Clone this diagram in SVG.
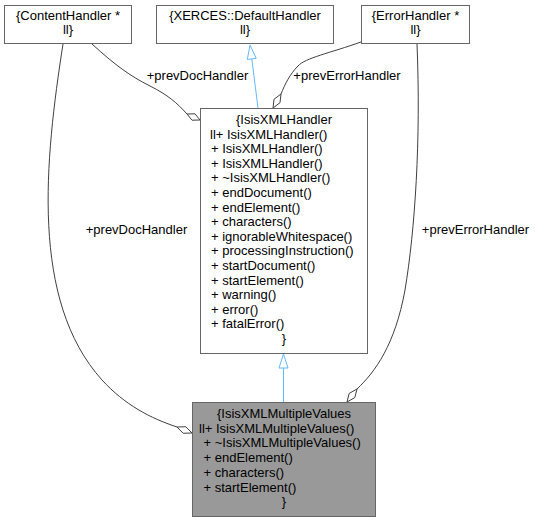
<svg xmlns="http://www.w3.org/2000/svg" width="535" height="521" viewBox="0 0 535 521">
<style>
.node rect{fill:#ffffff;stroke:#666666;stroke-width:1}
.hl rect{fill:#999999}
text{font-family:"Liberation Sans",Arial,Helvetica,sans-serif;font-size:13px;fill:#000000}
.c{text-anchor:middle}
.e path{fill:none;stroke:#404040;stroke-width:1}
.e polygon{fill:#ffffff;stroke:#404040;stroke-width:1}
.i path{fill:none;stroke:#63b8ff;stroke-width:1}
.i polygon{fill:#ffffff;stroke:#63b8ff;stroke-width:1}
</style>
<rect width="535" height="521" fill="#ffffff"/>
<g id="edges">
<g class="i">
<path d="M258,108 L251.8,58.9"/>
<polygon points="250,45 256.2,58.3 247.3,59.5"/>
<path d="M283.5,402 L283.5,368"/>
<polygon points="283.5,354 288,368 279,368"/>
</g>
<g class="e">
<path d="M92,44 C115,65 130,76 150,86 C168,95 177,103 187,114"/>
<polygon points="200,120 195,113.8 187,114 192,120.2"/>
<text class="c" x="197.5" y="80">+prevDocHandler</text>
<path d="M63,44 C45,160 30,300 102,380 C125,405 150,418 177,427"/>
<polygon points="192,433 185.8,426.75 177,427 183.2,433.25"/>
<text class="c" x="136.5" y="234">+prevDocHandler</text>
<path d="M361,42 C330,53 305,58 298,66 C290,74 285,84 281,94"/>
<polygon points="273,108 274,99.3 281,94 280,102.7"/>
<text class="c" x="347" y="80">+prevErrorHandler</text>
<path d="M417,44 C421,140 415,230 405,290 C395,345 375,372 357,389"/>
<polygon points="347,402 349.2,393.4 357,389 354.8,397.6"/>
<text class="c" x="475.5" y="234">+prevErrorHandler</text>
</g>
</g>
<g id="ContentHandler" class="node">
<rect x="4.5" y="5.5" width="127" height="38"/>
<text class="c" x="68" y="19.5">{ContentHandler *</text>
<text class="c" x="68" y="34">ll}</text>
</g>
<g id="DefaultHandler" class="node">
<rect x="156.5" y="5.5" width="177" height="38"/>
<text class="c" x="245" y="19.5">{XERCES::DefaultHandler</text>
<text class="c" x="245" y="34">ll}</text>
</g>
<g id="ErrorHandler" class="node">
<rect x="361.5" y="5.5" width="108" height="38"/>
<text class="c" x="415.5" y="19.5">{ErrorHandler *</text>
<text class="c" x="415.5" y="34">ll}</text>
</g>
<g id="IsisXMLHandler" class="node">
<rect x="200.5" y="108.5" width="167" height="245"/>
<text class="c" x="284" y="124">{IsisXMLHandler</text>
<text x="210" y="138.6">ll+ IsisXMLHandler()</text>
<text x="211" y="153.2">+ IsisXMLHandler()</text>
<text x="211" y="167.8">+ IsisXMLHandler()</text>
<text x="211" y="182.4">+ ~IsisXMLHandler()</text>
<text x="211" y="197">+ endDocument()</text>
<text x="211" y="211.6">+ endElement()</text>
<text x="211" y="226.2">+ characters()</text>
<text x="211" y="240.8">+ ignorableWhitespace()</text>
<text x="211" y="255.4">+ processingInstruction()</text>
<text x="211" y="270">+ startDocument()</text>
<text x="211" y="284.6">+ startElement()</text>
<text x="211" y="299.2">+ warning()</text>
<text x="211" y="313.8">+ error()</text>
<text x="211" y="328.4">+ fatalError()</text>
<text class="c" x="284" y="343">}</text>
</g>
<g id="IsisXMLMultipleValues" class="node hl">
<rect x="192.5" y="402.5" width="183" height="114"/>
<text class="c" x="284" y="418">{IsisXMLMultipleValues</text>
<text x="199" y="432.5">ll+ IsisXMLMultipleValues()</text>
<text x="203.5" y="447.3">+ ~IsisXMLMultipleValues()</text>
<text x="203.5" y="462.1">+ endElement()</text>
<text x="203.5" y="476.8">+ characters()</text>
<text x="203.5" y="491.5">+ startElement()</text>
<text class="c" x="284" y="506.2">}</text>
</g>
</svg>
